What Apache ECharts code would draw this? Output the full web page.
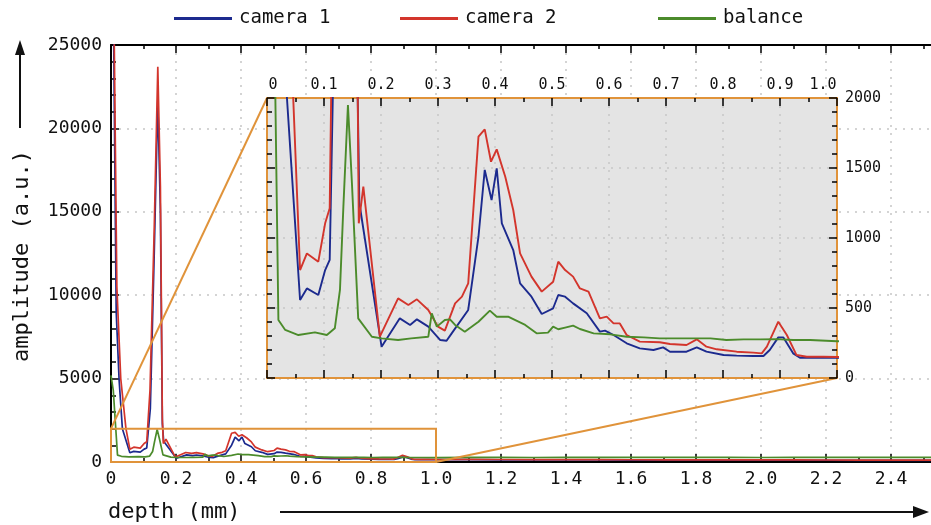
<!DOCTYPE html>
<html>
<head>
<meta charset="utf-8">
<script src="https://cdn.jsdelivr.net/npm/echarts@6/dist/echarts.min.js"></script>
<style>
  html, body { margin: 0; padding: 0; background: #fff; }
  #chart { width: 931px; height: 525px; }
</style>
</head>
<body>
<div id="chart"></div>
<script>
// Depth (mm) and amplitude (a.u.) samples for each trace
const depthCam1 = [0, 0.008, 0.016, 0.025, 0.035, 0.058, 0.07, 0.09, 0.102, 0.11, 0.121, 0.133, 0.144, 0.152, 0.158, 0.162,
  0.201, 0.233, 0.251, 0.263, 0.283, 0.304, 0.315, 0.324, 0.353, 0.371, 0.382, 0.394, 0.403, 0.412, 0.432, 0.444, 0.464,
  0.482, 0.502, 0.511, 0.523, 0.537, 0.561, 0.584, 0.593, 0.608, 0.631, 0.654, 0.678, 0.695, 0.707, 0.736, 0.754, 0.771,
  0.801, 0.824, 0.853, 0.871, 0.882, 0.897, 0.906, 0.923, 0.935, 0.976, 1.0,
  1.1, 1.2, 1.3, 1.4, 1.5, 1.6, 1.7, 1.8, 1.9, 2.0, 2.1, 2.2, 2.3, 2.4, 2.5, 2.6];
const camera1 = [32000, 26000, 9000, 4900, 2000, 557, 640, 593, 771, 843, 3200, 12500, 21700, 15000, 2300, 1250,
  224, 426, 379, 419, 367, 271, 266, 319, 486, 1009, 1486, 1271, 1498, 1105, 914, 676, 581,
  457, 498, 593, 581, 533, 462, 331, 338, 307, 248, 212, 200, 219, 188, 188, 219, 188,
  164, 160, 157, 157, 200, 290, 290, 176, 145, 145, 145,
  140, 132, 128, 125, 120, 118, 115, 112, 110, 108, 105, 104, 102, 100, 98, 96];

const depthCam2 = [0, 0.009, 0.018, 0.03, 0.046, 0.058, 0.07, 0.09, 0.102, 0.11, 0.12, 0.133, 0.144, 0.152, 0.158, 0.161,
  0.169, 0.198, 0.23, 0.248, 0.263, 0.283, 0.3, 0.312, 0.33, 0.342, 0.353, 0.371, 0.382, 0.393, 0.403, 0.418, 0.432,
  0.444, 0.464, 0.482, 0.502, 0.511, 0.523, 0.537, 0.549, 0.564, 0.584, 0.596, 0.608, 0.619, 0.631, 0.654, 0.689, 0.707,
  0.736, 0.754, 0.771, 0.789, 0.824, 0.853, 0.868, 0.877, 0.897, 0.912, 0.929, 0.947, 0.976, 1.0,
  1.1, 1.2, 1.3, 1.4, 1.5, 1.6, 1.7, 1.8, 1.9, 2.0, 2.1, 2.2, 2.3, 2.4, 2.5, 2.6];
const camera2 = [32000, 27000, 10500, 5000, 2000, 771, 890, 831, 1105, 1212, 4300, 14000, 23700, 16500, 2600, 1105,
  1367, 295, 569, 521, 562, 486, 367, 338, 533, 581, 676, 1724, 1776, 1545, 1633, 1438, 1200,
  890, 724, 617, 688, 831, 771, 724, 640, 617, 426, 438, 390, 390, 307, 260, 255, 243,
  236, 276, 224, 205, 188, 181, 176, 224, 402, 307, 164, 152, 152, 150,
  160, 150, 145, 140, 138, 135, 132, 130, 128, 125, 122, 120, 118, 116, 115, 112];

const depthBal = [0, 0.007, 0.014, 0.02, 0.032, 0.055, 0.084, 0.105, 0.119, 0.128, 0.134, 0.142, 0.149, 0.16, 0.184,
  0.201, 0.23, 0.253, 0.283, 0.289, 0.298, 0.312, 0.321, 0.33, 0.347, 0.371, 0.391, 0.403, 0.423, 0.453, 0.473, 0.493,
  0.502, 0.511, 0.523, 0.537, 0.549, 0.573, 0.602, 0.631, 0.661, 0.689, 0.719, 0.748, 0.778, 0.806, 0.836, 0.865, 0.894,
  0.923, 0.953, 1.0,
  1.1, 1.2, 1.3, 1.4, 1.5, 1.6, 1.7, 1.8, 1.9, 2.0, 2.1, 2.2, 2.3, 2.4, 2.5, 2.6];
const balance = [5200, 4300, 2200, 414, 343, 307, 326, 307, 355, 629, 1224, 1950, 1391, 426, 295,
  283, 271, 283, 295, 462, 367, 414, 419, 379, 331, 402, 481, 438, 438, 379, 319, 324,
  367, 348, 360, 374, 350, 319, 312, 295, 290, 283, 283, 283, 283, 271, 276, 276, 278,
  271, 271, 262,
  275, 282, 270, 278, 285, 272, 280, 276, 283, 270, 278, 281, 274, 279, 272, 276];

const seriesNames = ['camera 1', 'camera 2', 'balance'];
const seriesColors = ['#1c2a8e', '#d3352c', '#4b8b2b'];

// Axis ranges and tick steps
const mainDepthRange = [0, 2.6];
const mainDepthStep = 0.2;
const mainAmpRange = [0, 25000];
const mainAmpStep = 5000;
const zoomDepthRange = [0, 1.0];
const zoomDepthStep = 0.1;
const zoomAmpRange = [0, 2000];
const zoomAmpStep = 500;

const MONO = "'DejaVu Sans Mono', 'Liberation Mono', monospace";
const ORANGE = '#e0933a';
const DOT = { color: '#c6c6c6', width: 1.5, type: [2, 6] };

function pairs(xs, ys) { return xs.map((x, i) => [x, ys[i]]); }
const traces = [pairs(depthCam1, camera1), pairs(depthCam2, camera2), pairs(depthBal, balance)];

const chart = echarts.init(document.getElementById('chart'), null, { renderer: 'canvas' });

const tickIn = (len, w) => ({ show: true, inside: true, length: len, lineStyle: { color: '#000', width: w } });
const minorIn = (split, len, w) => ({ show: true, splitNumber: split, length: len, lineStyle: { color: '#000', width: w } });
const plain = v => String(Math.round(v));

const legends = seriesNames.map((n, i) => ({
  data: [n],
  left: [169, 395, 653][i],
  top: 4,
  icon: 'rect',
  itemWidth: 58,
  itemHeight: 3,
  itemGap: 8,
  textStyle: { fontFamily: MONO, fontSize: 19, color: '#111', padding: [0, 0, 0, 2] }
}));

const mainSeries = traces.map((d, i) => ({
  name: seriesNames[i], type: 'line', xAxisIndex: 0, yAxisIndex: 0,
  data: d, showSymbol: false, symbol: 'none', z: 3,
  lineStyle: { color: seriesColors[i], width: 1.7 }, itemStyle: { color: seriesColors[i] },
  animation: false
}));
const zoomSeries = traces.map((d, i) => ({
  name: seriesNames[i], type: 'line', xAxisIndex: 2, yAxisIndex: 1,
  data: d, showSymbol: false, symbol: 'none', z: 8, clip: true,
  lineStyle: { color: seriesColors[i], width: 1.9 }, itemStyle: { color: seriesColors[i] },
  animation: false
}));

const option = {
  animation: false,
  backgroundColor: '#ffffff',
  legend: legends,
  grid: [
    { left: 111, top: 45, width: 845, height: 417, show: false, outerBoundsMode: 'none', containLabel: false },
    { left: 267, top: 98, width: 570, height: 280, show: true, z: 5, outerBoundsMode: 'none', containLabel: false,
      backgroundColor: '#e4e4e4', borderColor: ORANGE, borderWidth: 2 }
  ],
  xAxis: [
    { type: 'value', gridIndex: 0, position: 'bottom', min: mainDepthRange[0], max: mainDepthRange[1], interval: mainDepthStep,
      axisLine: { show: true, onZero: false, lineStyle: { color: '#000', width: 2 } },
      axisTick: tickIn(8, 1.5), minorTick: minorIn(2, 4, 1.5),
      axisLabel: { margin: 8, fontFamily: MONO, fontSize: 18, color: '#111',
        formatter: v => (v === 0 ? '0' : v.toFixed(1)) },
      splitLine: { show: true, lineStyle: DOT } },
    { type: 'value', gridIndex: 0, position: 'top', min: mainDepthRange[0], max: mainDepthRange[1], interval: mainDepthStep,
      axisLine: { show: true, onZero: false, lineStyle: { color: '#000', width: 2 } },
      axisTick: tickIn(8, 1.5), minorTick: minorIn(2, 4, 1.5),
      axisLabel: { show: false }, splitLine: { show: false } },
    { type: 'value', gridIndex: 1, position: 'top', min: zoomDepthRange[0], max: zoomDepthRange[1], interval: zoomDepthStep, z: 6,
      axisLine: { show: true, onZero: false, lineStyle: { color: ORANGE, width: 2 } },
      axisTick: tickIn(8, 1.5), minorTick: minorIn(2, 4, 1.5),
      axisLabel: { margin: 5, fontFamily: MONO, fontSize: 15, color: '#111',
        formatter: v => (v === 0 ? '{l|0}' : (Math.abs(v - 1) < 1e-9 ? '{r|1.0}' : v.toFixed(1))),
        rich: {
          l: { fontFamily: MONO, fontSize: 15, color: '#111', padding: [0, 0, 0, 12] },
          r: { fontFamily: MONO, fontSize: 15, color: '#111', padding: [0, 28, 0, 0] }
        } },
      splitLine: { show: true, lineStyle: DOT } },
    { type: 'value', gridIndex: 1, position: 'bottom', min: zoomDepthRange[0], max: zoomDepthRange[1], interval: zoomDepthStep, z: 6,
      axisLine: { show: true, onZero: false, lineStyle: { color: ORANGE, width: 2 } },
      axisTick: tickIn(8, 1.5), minorTick: minorIn(2, 4, 1.5),
      axisLabel: { show: false }, splitLine: { show: false } }
  ],
  yAxis: [
    { type: 'value', gridIndex: 0, position: 'left', min: mainAmpRange[0], max: mainAmpRange[1], interval: mainAmpStep,
      axisLine: { show: true, onZero: false, lineStyle: { color: '#000', width: 2 } },
      axisTick: tickIn(8, 1.5), minorTick: minorIn(5, 5, 1.5),
      axisLabel: { margin: 9, fontFamily: MONO, fontSize: 18, color: '#111', formatter: plain },
      splitLine: { show: true, lineStyle: DOT } },
    { type: 'value', gridIndex: 1, position: 'right', min: zoomAmpRange[0], max: zoomAmpRange[1], interval: zoomAmpStep, z: 6,
      axisLine: { show: true, onZero: false, lineStyle: { color: ORANGE, width: 2 } },
      axisTick: tickIn(8, 1.5), minorTick: minorIn(5, 5, 1.5),
      axisLabel: { margin: 8, fontFamily: MONO, fontSize: 15, color: '#111', formatter: plain },
      splitLine: { show: true, lineStyle: DOT } },
    { type: 'value', gridIndex: 1, position: 'left', min: zoomAmpRange[0], max: zoomAmpRange[1], interval: zoomAmpStep, z: 6,
      axisLine: { show: true, onZero: false, lineStyle: { color: ORANGE, width: 2 } },
      axisTick: tickIn(8, 1.5), minorTick: minorIn(5, 5, 1.5),
      axisLabel: { show: false }, splitLine: { show: false } }
  ],
  series: mainSeries.concat(zoomSeries),
  graphic: [
    // vertical axis title with arrow
    { type: 'text', z: 10, x: 22, y: 256, rotation: Math.PI / 2,
      style: { text: 'amplitude (a.u.)', font: '22px ' + MONO, fill: '#111', textAlign: 'center', textVerticalAlign: 'middle' } },
    { type: 'line', z: 10, shape: { x1: 20, y1: 128, x2: 20, y2: 52 }, style: { stroke: '#111', lineWidth: 2 } },
    { type: 'polygon', z: 10, shape: { points: [[20, 40], [15, 55], [25, 55]] }, style: { fill: '#111' } },
    // horizontal axis title with arrow
    { type: 'text', z: 10, x: 108, y: 512,
      style: { text: 'depth (mm)', font: '22px ' + MONO, fill: '#111', textAlign: 'left', textVerticalAlign: 'middle' } },
    { type: 'line', z: 10, shape: { x1: 280, y1: 512, x2: 916, y2: 512 }, style: { stroke: '#111', lineWidth: 2 } },
    { type: 'polygon', z: 10, shape: { points: [[929, 512], [913, 506], [913, 518]] }, style: { fill: '#111' } }
  ]
};

chart.setOption(option);

// Zoom window in the main plot and the guide lines to the magnified panel
const boxTL = chart.convertToPixel({ gridIndex: 0 }, [zoomDepthRange[0], zoomAmpRange[1]]);
const boxBR = chart.convertToPixel({ gridIndex: 0 }, [zoomDepthRange[1], zoomAmpRange[0]]);
const insetTL = chart.convertToPixel({ gridIndex: 1 }, [zoomDepthRange[0], zoomAmpRange[1]]);
const insetBR = chart.convertToPixel({ gridIndex: 1 }, [zoomDepthRange[1], zoomAmpRange[0]]);

chart.setOption({
  graphic: [
    { id: 'zoomBox', type: 'rect', z: 4,
      shape: { x: boxTL[0], y: boxTL[1], width: boxBR[0] - boxTL[0], height: boxBR[1] - boxTL[1] },
      style: { fill: 'none', stroke: ORANGE, lineWidth: 2 } },
    { id: 'guideA', type: 'line', z: 4,
      shape: { x1: boxTL[0], y1: boxTL[1], x2: insetTL[0], y2: insetTL[1] },
      style: { stroke: ORANGE, lineWidth: 2 } },
    { id: 'guideB', type: 'line', z: 4,
      shape: { x1: boxBR[0], y1: boxBR[1], x2: insetBR[0], y2: insetBR[1] },
      style: { stroke: ORANGE, lineWidth: 2 } }
  ]
});
</script>
</body>
</html>
